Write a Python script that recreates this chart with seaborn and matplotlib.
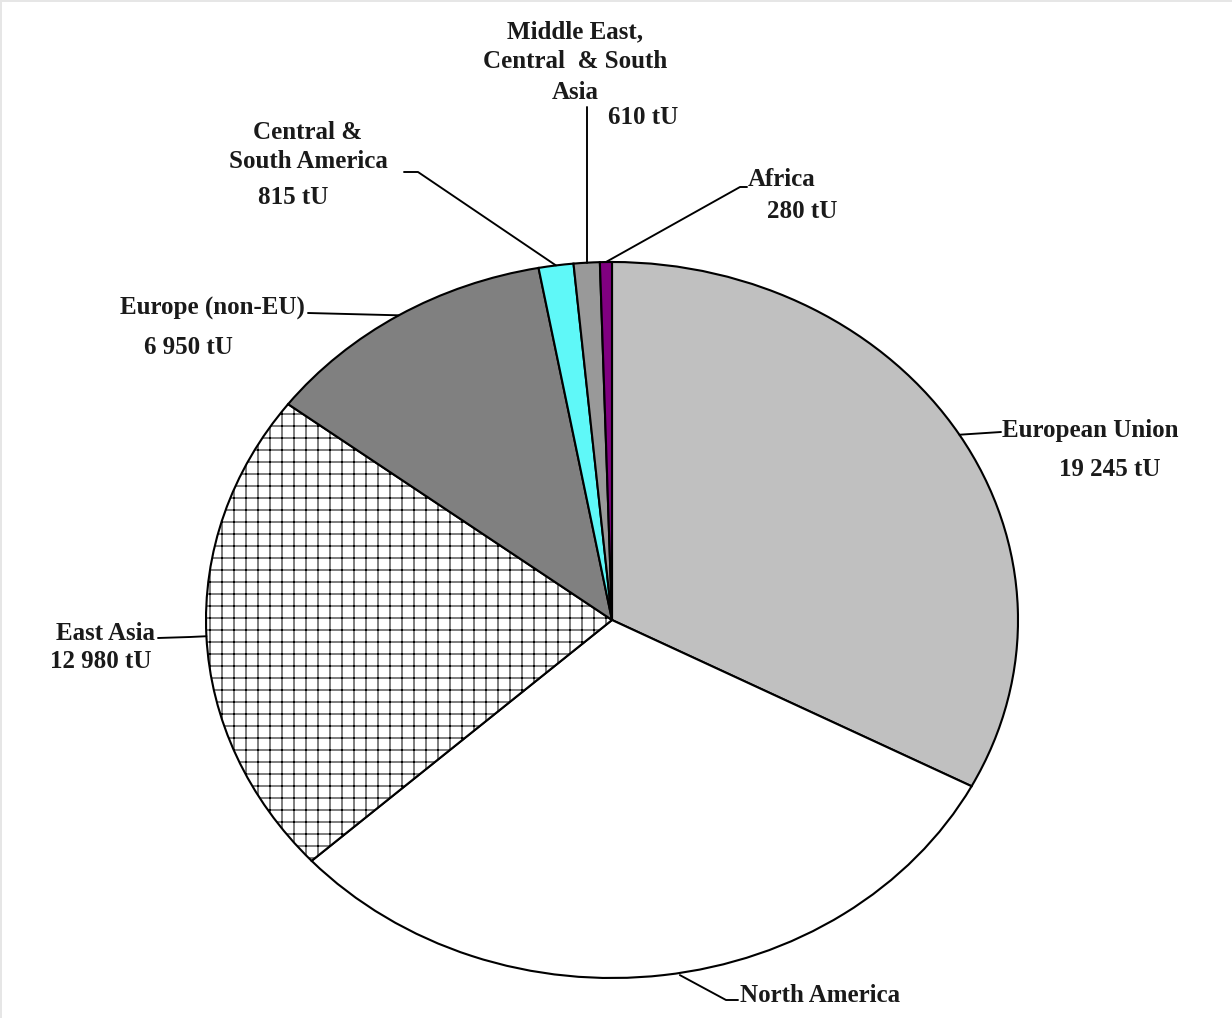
import numpy as np
import matplotlib
matplotlib.use("Agg")
import matplotlib.pyplot as plt
import seaborn as sns

# Enrichment demand by region, tonnes of uranium (tU)
regions = ["European Union", "North America", "East Asia", "Europe (non-EU)",
           "Central & South America", "Middle East, Central & South Asia", "Africa"]
demand_tu = [19245, 18000, 12980, 6950, 815, 610, 280]
label_lines = ["European Union", "North America", "East Asia", "Europe (non-EU)",
               "Central &\nSouth America", "Middle East,\nCentral  & South\nAsia", "Africa"]
value_labels = ["19 245 tU", None, "12 980 tU", "6 950 tU", "815 tU", "610 tU", "280 tU"]
slice_colors = ["#c0c0c0", "#ffffff", "#ffffff", "#808080", "#5ff8f8", "#999999", "#800080"]
slice_hatches = [None, None, "+", None, None, None, None]

sns.set_theme(style="white")
plt.rcParams["font.family"] = ["Liberation Serif", "DejaVu Serif"]
plt.rcParams["hatch.linewidth"] = 1.0

W, H, DPI = 1232, 1018, 72
fig = plt.figure(figsize=(W / DPI, H / DPI), dpi=DPI)
ax = fig.add_axes([0, 0, 1, 1])

# pie centre and radii in pixels (drawn slightly flattened)
CX, CY, RX, RY = 612, 620, 406, 358


def px(x, y):
    return (x - CX) / RX, (CY - y) / RY


wedges, _ = ax.pie(demand_tu, colors=slice_colors, startangle=90, counterclock=False,
                   radius=1.0, wedgeprops=dict(edgecolor="black", linewidth=2.1))
for w, h in zip(wedges, slice_hatches):
    if h:
        w.set_hatch(h)

ax.set_aspect("auto")
ax.set_xlim((0 - CX) / RX, (W - CX) / RX)
ax.set_ylim((CY - H) / RY, CY / RY)
ax.axis("off")

FS = 25
txt = dict(fontsize=FS, color="#1a1a1a", fontweight="bold")


def edge_point(w):
    ang = np.deg2rad((w.theta1 + w.theta2) / 2)
    return np.cos(ang), np.sin(ang)


line_kw = dict(color="black", lw=1.9)

# European Union
x0, y0 = edge_point(wedges[0])
ax.plot([x0, px(1001, 432)[0]], [y0, px(1001, 432)[1]], **line_kw)
ax.text(*px(1002, 430), label_lines[0], ha="left", va="center", **txt)
ax.text(*px(1110, 470), value_labels[0], ha="center", va="center", **txt)

# North America
x0, y0 = edge_point(wedges[1])
pts = [(x0 + 0.04, y0), px(726, 1000), px(738, 1000)]
ax.plot([p[0] for p in pts], [p[1] for p in pts], **line_kw)
ax.text(*px(740, 995), label_lines[1], ha="left", va="center", **txt)

# East Asia
x0, y0 = edge_point(wedges[2])
pts = [(x0, y0), px(190, 637), px(158, 638)]
ax.plot([p[0] for p in pts], [p[1] for p in pts], **line_kw)
ax.text(*px(155, 634), label_lines[2], ha="right", va="center", **txt)
ax.text(*px(101, 662), value_labels[2], ha="center", va="center", **txt)

# Europe (non-EU)
x0, y0 = edge_point(wedges[3])
pts = [(x0, y0), px(308, 313)]
ax.plot([p[0] for p in pts], [p[1] for p in pts], **line_kw)
ax.text(*px(305, 308), label_lines[3], ha="right", va="center", **txt)
ax.text(*px(188, 347), value_labels[3], ha="center", va="center", **txt)

# Central & South America
x0, y0 = edge_point(wedges[4])
pts = [(x0, y0), px(418, 172), px(404, 172)]
ax.plot([p[0] for p in pts], [p[1] for p in pts], **line_kw)
ax.text(*px(308, 147), label_lines[4], ha="center", va="center", linespacing=1.3, **txt)
ax.text(*px(293, 197), value_labels[4], ha="center", va="center", **txt)

# Middle East, Central & South Asia
x0, y0 = edge_point(wedges[5])
pts = [(x0, y0), (x0, px(0, 107)[1])]
ax.plot([p[0] for p in pts], [p[1] for p in pts], **line_kw)
ax.text(*px(575, 62), label_lines[5], ha="center", va="center", linespacing=1.4, **txt)
ax.text(*px(643, 118), value_labels[5], ha="center", va="center", **txt)

# Africa
x0, y0 = edge_point(wedges[6])
pts = [(x0, y0), px(740, 187), px(747, 187)]
ax.plot([p[0] for p in pts], [p[1] for p in pts], **line_kw)
ax.text(*px(748, 180), label_lines[6], ha="left", va="center", **txt)
ax.text(*px(802, 212), value_labels[6], ha="center", va="center", **txt)

# thin frame along the top and left edges
fig.add_artist(plt.Line2D([0, 1], [0.999, 0.999], transform=fig.transFigure, color="#e6e6e6", lw=2))
fig.add_artist(plt.Line2D([0.001, 0.001], [0, 1], transform=fig.transFigure, color="#e6e6e6", lw=2))

fig.savefig("out.png", dpi=DPI, facecolor="white")
